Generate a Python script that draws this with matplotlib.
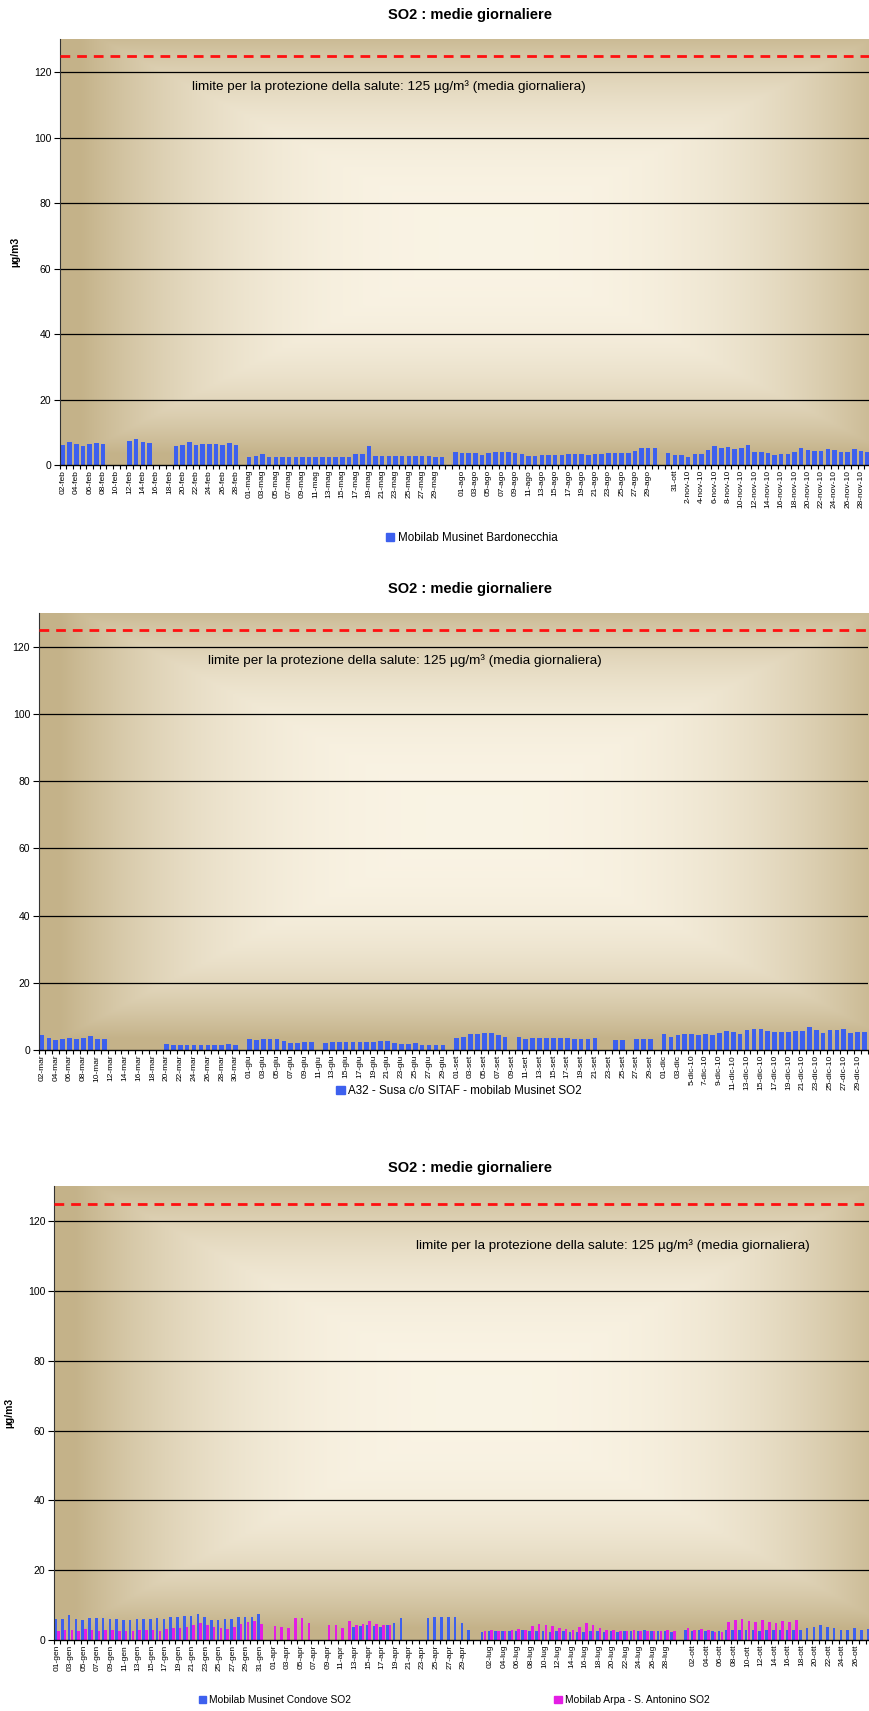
import numpy as np
import matplotlib
matplotlib.use("Agg")
import matplotlib.pyplot as plt
from matplotlib.patches import Patch

plt.rcParams['font.family'] = ['Liberation Sans', 'DejaVu Sans']

W, H = 870, 1711
nan = np.nan

# ---------------- data: panel 1 (Bardonecchia) ----------------
p1_feb = [f"{d:02d}-feb" for d in range(2, 29)]
p1_mag = [f"{d:02d}-mag" for d in range(1, 31)]
p1_ago = [f"{d:02d}-ago" for d in range(1, 31)]
p1_nov = [f"{d}-nov-10" for d in range(1, 30)]
p1_labels = p1_feb + ["30-apr"] + p1_mag + ["", "31-lug"] + p1_ago + ["", "30-ott", "31-ott"] + p1_nov

p1_feb_vals = [6.1, 6.9, 6.4, 5.8, 6.4, 6.8, 6.4, nan, nan, nan, 7.4, 7.8, 7.1, 6.8,
               nan, nan, nan, 5.8, 6.2, 6.9, 6.2, 6.5, 6.5, 6.5, 6.1, 6.8, 6.2]
p1_mag_vals = [2.55, 2.75, 3.4, 2.35, 2.35, 2.35, 2.35, 2.35, 2.35, 2.35, 2.35, 2.35,
               2.35, 2.35, 2.35, 2.35, 3.3, 3.3, 5.8, 2.9, 2.6, 2.6, 2.6, 2.6, 2.6,
               2.6, 2.6, 2.6, 2.35, 2.35]
p1_ago_vals = [4.1, 3.8, 3.6, 3.6, 3.1, 3.8, 4.1, 4.1, 4.1, 3.8, 3.3, 2.9, 2.9, 3.1,
               3.1, 3.1, 3.1, 3.4, 3.4, 3.4, 3.2, 3.4, 3.4, 3.6, 3.6, 3.8, 3.8, 4.4,
               5.1, 5.1, 5.1]
p1_nov_vals = [3.8, 3.1, 3.1, 2.55, 3.3, 3.4, 4.6, 5.9, 5.1, 5.4, 4.8, 5.1, 6.1, 4.1,
               3.9, 3.6, 3.1, 3.4, 3.4, 3.9, 5.1, 4.6, 4.3, 4.4, 4.9, 4.6, 4.1, 4.1,
               4.9, 4.3, 4.1]
p1_values = p1_feb_vals + [nan] + p1_mag_vals + [nan] + p1_ago_vals + [nan] + p1_nov_vals

# ---------------- data: panel 2 (Susa) ----------------
p2_mar = [f"{d:02d}-mar" for d in range(2, 32)]
p2_giu = [f"{d:02d}-giu" for d in range(1, 31)]
p2_set = [f"{d:02d}-set" for d in range(1, 31)]
p2_dic = ["01-dic", "02-dic", "03-dic", "04-dic"] + [f"{d}-dic-10" for d in range(5, 31)]
p2_labels = p2_mar + p2_giu + p2_set + p2_dic

p2_mar_vals = [4.5, 3.5, 3.0, 3.2, 3.5, 3.3, 3.5, 4.3, 3.3, 3.3,
               nan, nan, nan, nan, nan, nan, nan, nan,
               1.8, 1.5, 1.4, 1.4, 1.4, 1.4, 1.4, 1.4, 1.5, 1.7, 1.4, nan]
p2_giu_vals = [3.2, 3.0, 3.2, 3.2, 3.2, 2.7, 2.2, 2.2, 2.5, 2.5, nan,
               2.2, 2.4, 2.4, 2.4, 2.4, 2.4, 2.4, 2.5, 2.7, 2.7, 2.2, 1.9, 1.9,
               2.2, 1.5, 1.5, 1.5, 1.5, nan]
p2_set_vals = [3.5, 3.8, 4.7, 4.7, 5.0, 5.0, 4.5, 4.0, nan, 4.0, 3.3, 3.5, 3.5, 3.5,
               3.5, 3.5, 3.5, 3.4, 3.4, 3.4, 3.7, nan, nan, 3.0, 3.0, nan, 3.3, 3.3,
               3.3, nan]
p2_dic_vals = [4.7, 4.0, 4.5, 4.7, 4.7, 4.5, 4.7, 4.5, 5.0, 5.7, 5.5, 4.7, 6.0, 6.3,
               6.3, 5.8, 5.5, 5.5, 5.5, 5.8, 5.8, 6.9, 6.0, 5.0, 6.0, 6.0, 6.3, 5.2,
               5.5, 5.5]
p2_values = p2_mar_vals + p2_giu_vals + p2_set_vals + p2_dic_vals

# ---------------- data: panel 3 (Condove / S. Antonino) ----------------
p3_gen = [f"{d:02d}-gen" for d in range(1, 32)]
p3_apr = [f"{d:02d}-apr" for d in range(1, 31)]
p3_lug = [f"{d:02d}-lug" for d in range(1, 30)]
p3_ott = [f"{d:02d}-ott" for d in range(1, 29)]
p3_labels = p3_gen + ["31-mar"] + p3_apr + [""] + p3_lug + [""] + p3_ott

p3_condove = ([5.9, 5.9, 7.2, 5.9, 5.7, 6.2, 6.2, 6.2, 6.0, 5.9, 5.7, 5.7, 5.9, 5.9, 6.0,
               6.2, 5.9, 6.7, 6.7, 6.9, 6.9, 7.4, 6.5, 5.7, 5.7, 5.9, 5.9, 6.5, 6.5, 6.7,
               7.4, nan]
              + [nan] * 12 + [3.8, 4.0, 4.2, 4.0, 3.8, 4.2, 5.0, 6.2, nan, nan, nan,
                              6.2, 6.5, 6.5, 6.5, 6.5, 5.0, 2.9]
              + [nan, 2.4, 2.6, 2.7, 2.5, 2.6, 2.5, 2.8, 2.7, 2.6, 2.5, 2.4, 2.6, 2.5,
                 2.4, 2.3, 2.4, 2.5, 2.6, 2.4, 2.5, 2.3, 2.5, 2.6, 2.7, 2.8, 2.6, 2.7,
                 2.5, 2.4]
              + [nan, 2.8, 2.6, 2.9, 2.5, 2.6, 2.7, 3.0, 2.8, 2.9, 3.0, 2.8, 2.7, 2.9,
                 2.8, 3.0, 2.9, 3.0, 2.9, 3.3, 3.8, 4.3, 3.8, 3.3, 2.9, 2.9, 3.3, 3.0, 3.1])
p3_antonino = ([2.5, 3.0, 2.8, 2.6, 3.2, 2.8, 2.6, 2.9, 3.0, 2.7, 2.6, 2.5, 2.8, 3.0, 2.9,
                2.7, 3.2, 3.4, 3.3, 3.6, 4.2, 4.8, 4.4, 3.8, 3.5, 3.2, 3.8, 4.5, 5.2, 5.5,
                4.6, nan]
               + [4.0, 3.8, 3.3, 6.2, 6.2, 5.0, nan, nan, 4.3, 4.3, 3.3, 5.5, 4.3, 4.6,
                  5.4, 4.6, 4.3, 4.3] + [nan] * 12
               + [nan, 2.6, 2.8, 2.5, 2.7, 2.9, 3.2, 3.0, 4.0, 4.6, 4.3, 4.0, 3.5, 3.2,
                  3.0, 3.6, 4.8, 4.2, 3.3, 3.0, 2.8, 2.7, 2.6, 2.8, 2.5, 2.7, 2.6, 2.5,
                  2.8, 2.6]
               + [nan, 3.3, 3.0, 3.2, 2.8, 2.4, 2.2, 5.2, 5.8, 6.0, 5.5, 5.3, 5.6, 5.2,
                  5.0, 5.4, 5.2, 5.6] + [nan] * 11)

LIMIT = 125
LIMIT_TEXT = "limite per la protezione della salute: 125 µg/m³ (media giornaliera)"
TITLE = "SO2 : medie giornaliere"


def rect(left, top, right, bottom):
    return [left / W, 1 - bottom / H, (right - left) / W, (bottom - top) / H]


def background(ax):
    # rectangular "from centre" gradient like the Excel plot area fill
    xs = np.linspace(-1, 1, 300)
    ys = np.linspace(-1, 1, 200)
    X, Y = np.meshgrid(xs, ys)
    d = np.maximum(np.abs(X - 0.05), np.abs(Y + 0.05))
    d = np.clip(d, 0, 1) ** 2.8
    light = np.array([0.98, 0.955, 0.895])
    dark = np.array([0.77, 0.70, 0.54])
    img = light[None, None, :] * (1 - d[..., None]) + dark[None, None, :] * d[..., None]
    ax.imshow(img, extent=[0, 1, 0, 1], transform=ax.transAxes, aspect='auto',
              zorder=0, interpolation='bilinear')


def setup_axis(ax, labels, ylabel=True, last_label=None):
    n = len(labels)
    background(ax)
    ax.set_xlim(-0.5, n - 0.5)
    ax.set_ylim(0, 130)
    for y in range(20, 121, 20):
        ax.axhline(y, color='black', lw=0.9, zorder=1)
    ax.axhline(LIMIT, color='#ff1010', lw=2, ls=(0, (3.5, 2.5)), zorder=3)
    ax.set_yticks(range(0, 121, 20))
    ax.tick_params(axis='y', labelsize=7.5, length=4, width=0.8, pad=2)
    stop = n if last_label is None else last_label + 1
    ax.set_xticks(range(0, stop, 2))
    ax.set_xticklabels(labels[:stop:2], rotation=90, fontsize=6)
    ax.set_xticks(np.arange(-0.5, n, 1), minor=True)
    ax.tick_params(axis='x', which='major', length=0, pad=3.5)
    ax.tick_params(axis='x', which='minor', length=3, width=0.8)
    for s in ['top', 'right']:
        ax.spines[s].set_visible(False)
    ax.spines['left'].set_color('#333333')
    ax.spines['left'].set_linewidth(0.8)
    ax.spines['bottom'].set_linewidth(1.0)
    if ylabel:
        ax.set_ylabel("µg/m3", fontsize=7.5, fontweight='bold', labelpad=10)


def add_legend(color, label, x, y, size):
    fig.legend(handles=[Patch(color=color, label=label)],
               loc='center', bbox_to_anchor=(x / W, 1 - y / H), frameon=False,
               fontsize=size, handlelength=0.7, handleheight=0.7, handletextpad=0.3)


fig = plt.figure(figsize=(W / 100, H / 100), dpi=100)
fig.patch.set_facecolor('white')

BLUE = '#3d60ee'
MAGENTA = '#e41de4'

# panel 1
ax1 = fig.add_axes(rect(59.7, 39.3, 871, 465))
setup_axis(ax1, p1_labels)
ax1.bar(np.arange(len(p1_values)), p1_values, width=0.68, color=BLUE, zorder=2)
ax1.text(19.4, 115.5, LIMIT_TEXT, fontsize=9.7, va='center')
fig.text(470 / W, 1 - 15 / H, TITLE, ha='center', va='center', fontsize=10.5, fontweight='bold')
add_legend(BLUE, "Mobilab Musinet Bardonecchia", 472, 538, 8.4)

# panel 2
ax2 = fig.add_axes(rect(38.5, 613.2, 868, 1050))
setup_axis(ax2, p2_labels, ylabel=False)
ax2.bar(np.arange(len(p2_values)), p2_values, width=0.68, color=BLUE, zorder=2)
ax2.text(24, 116, LIMIT_TEXT, fontsize=9.7, va='center')
fig.text(470 / W, 1 - 589.5 / H, TITLE, ha='center', va='center', fontsize=10.5, fontweight='bold')
add_legend(BLUE, "A32 - Susa c/o SITAF - mobilab Musinet SO2", 459, 1091, 8.4)

# panel 3
ax3 = fig.add_axes(rect(53.6, 1186.3, 872.8, 1640))
setup_axis(ax3, p3_labels, last_label=118)
x3 = np.arange(len(p3_labels))
ax3.bar(x3 - 0.2, p3_condove, width=0.38, color=BLUE, zorder=2)
ax3.bar(x3 + 0.2, p3_antonino, width=0.38, color=MAGENTA, zorder=2)
ax3.text(53, 113, LIMIT_TEXT, fontsize=9.7, va='center')
fig.text(470 / W, 1 - 1168 / H, TITLE, ha='center', va='center', fontsize=10.5, fontweight='bold')
add_legend(BLUE, "Mobilab Musinet Condove SO2", 275, 1700, 7.4)
add_legend(MAGENTA, "Mobilab Arpa - S. Antonino SO2", 632, 1700, 7.4)

fig.savefig("out.png", dpi=100)
